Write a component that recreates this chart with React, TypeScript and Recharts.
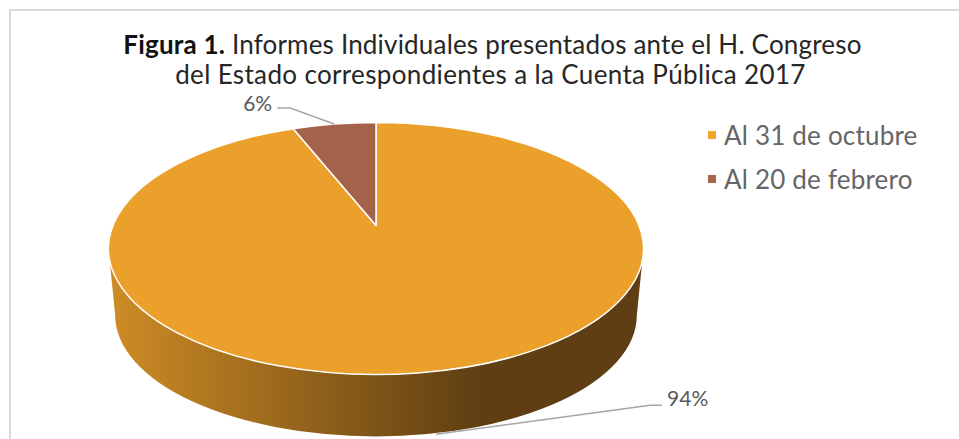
import React from 'react';
import { PieChart, Pie, Cell, Legend } from 'recharts';

const categories = ['Al 31 de octubre', 'Al 20 de febrero'];
const values = [94, 6];
const topColors = ['#EBA02C', '#A5624B'];
const legendColors = ['#F2A52E', '#A6654D'];
const titleLines = [
    { bold: 'Figura 1.', rest: ' Informes Individuales presentados ante el H. Congreso' },
    { bold: '', rest: 'del Estado correspondientes a la Cuenta Pública 2017' },
];

const data = categories.map((name, i) => ({ name, value: values[i] }));

const WIDTH = 959;
const HEIGHT = 439;
const FONT = 'Lato, "Open Sans", sans-serif';

// The pie is seen in perspective: the circle projects to an ellipse and its centre sits above the ellipse centre
const SQUASH = 126 / 267.5;
const APEX_SHIFT = 23 / 267.5;
const WALL = { drop: 67, rx: 0.975, ry: 0.452 };

const project = (cx: number, cy: number, r: number, deg: number) => {
    const rad = (deg * Math.PI) / 180;
    const ry = r * SQUASH;
    const b = r * APEX_SHIFT;
    const k = b / ry;
    const d = 1 + k * Math.sin(rad);
    return {
        x: cx + (r * Math.sqrt(1 - k * k) * Math.cos(rad)) / d,
        y: cy - (ry * Math.sin(rad) + b) / d,
    };
};

const Slice3D = (props: any) => {
    const { cx, cy, outerRadius: r, startAngle, endAngle, fill } = props;
    const centre = { x: cx, y: cy - r * APEX_SHIFT };
    const a = project(cx, cy, r, startAngle);
    const b = project(cx, cy, r, endAngle);
    const large = Math.abs(startAngle - endAngle) > 180 ? 1 : 0;
    const ry = r * SQUASH;
    const front = Math.min(startAngle, 0) > Math.max(endAngle, -180);
    const wallRx = r * WALL.rx;
    const wallRy = r * WALL.ry;
    const wallY = cy + WALL.drop;
    return (
        <g>
            {front && (
                <>
                    <defs>
                        <linearGradient id="wallFill" gradientUnits="userSpaceOnUse" x1={cx - r} x2={cx + 105} y1={0} y2={0}>
                            <stop offset="0%" stopColor="#CE8C25" />
                            <stop offset="100%" stopColor="#5E3E12" />
                        </linearGradient>
                    </defs>
                    <path
                        d={`M${cx - r},${cy} L${cx - wallRx},${wallY} A${wallRx},${wallRy} 0 0 0 ${cx + wallRx},${wallY} L${cx + r},${cy} Z`}
                        fill="url(#wallFill)"
                    />
                </>
            )}
            <path
                d={`M${centre.x},${centre.y} L${a.x},${a.y} A${r},${ry} 0 ${large} 1 ${b.x},${b.y} Z`}
                fill={fill}
                stroke="#fff"
                strokeWidth={1.5}
                strokeLinejoin="round"
            />
        </g>
    );
};

const leaderOffsets = [
    { elbow: [214, -29], end: [226, -29], text: [231, -34], anchor: 'start', wall: true },
    { elbow: [-44, -16], end: [-57, -16], text: [-62, -18], anchor: 'end', wall: false },
];

const SliceLabel = (props: any) => {
    const { cx, cy, outerRadius, midAngle, value, index } = props;
    const off = leaderOffsets[index];
    const p = project(cx, cy, outerRadius, midAngle);
    const x = p.x;
    const y = p.y + (off.wall ? 63 : 0);
    return (
        <g>
            <polyline
                points={`${x},${y} ${x + off.elbow[0]},${y + off.elbow[1]} ${x + off.end[0]},${y + off.end[1]}`}
                fill="none"
                stroke="#A6A6A6"
                strokeWidth={1.5}
            />
            <text x={x + off.text[0]} y={y + off.text[1]} textAnchor={off.anchor} fontFamily={FONT} fontSize={21} fill="#595959" dominantBaseline="middle">
                {value}%
            </text>
        </g>
    );
};

const LegendList = () => (
    <div style={{ fontFamily: FONT, fontSize: 26, color: '#666' }}>
        {categories.map((name, i) => (
            <div key={name} style={{ display: 'flex', alignItems: 'center', height: 44 }}>
                <span style={{ width: 8, height: 8, background: legendColors[i], marginRight: 8 }} />
                <span style={{ letterSpacing: 0.2 }}>{name}</span>
            </div>
        ))}
    </div>
);

const titleLayout = [
    { x: 492.5, spacing: 0.19 },
    { x: 490.5, spacing: 0.35 },
];

export default function App() {
    return (
        <div style={{ position: 'fixed', left: 0, top: 0, width: WIDTH, height: HEIGHT, overflow: 'hidden', background: '#fff' }}>
            <div style={{ position: 'absolute', left: 9, top: 9, width: WIDTH, height: HEIGHT, border: '2px solid #D9D9D9' }} />
            <div style={{ position: 'absolute', left: 0, top: 0 }}>
                <PieChart width={WIDTH} height={HEIGHT} margin={{ top: 0, right: 0, bottom: 0, left: 0 }}>
                    {titleLines.map((line, i) => (
                        <text key={i} x={titleLayout[i].x} y={54 + i * 30} textAnchor="middle" fontFamily={FONT} fontSize={26} fill="#262626" letterSpacing={titleLayout[i].spacing}>
                            {line.bold && <tspan fontWeight={700} fill="#111">{line.bold}</tspan>}
                            <tspan>{line.rest}</tspan>
                        </text>
                    ))}
                    <Pie
                        data={data}
                        dataKey="value"
                        nameKey="name"
                        cx={376}
                        cy={248.5}
                        innerRadius={0}
                        outerRadius={267.5}
                        startAngle={90}
                        endAngle={-270}
                        stroke="none"
                        shape={Slice3D}
                        label={SliceLabel}
                        labelLine={false}
                        isAnimationActive={false}
                    >
                        {data.map((entry, index) => (
                            <Cell key={`cell-${index}`} fill={topColors[index]} />
                        ))}
                    </Pie>
                    <Legend content={LegendList} layout="vertical" wrapperStyle={{ position: 'absolute', left: 708, top: 113, width: 240 }} />
                </PieChart>
            </div>
        </div>
    );
}
